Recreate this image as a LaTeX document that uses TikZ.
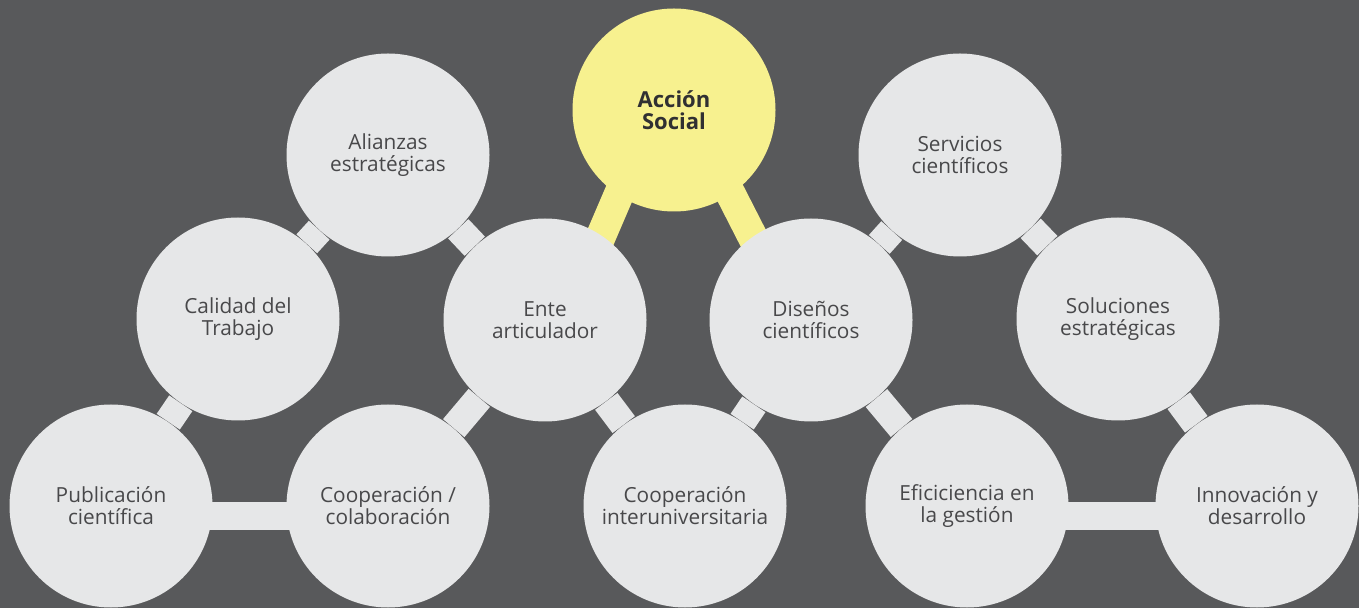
\documentclass[tikz,border=0pt]{standalone}
\usepackage{fontspec}
\setmainfont{Open Sans}
\usetikzlibrary{calc, backgrounds}
\definecolor{slate}{HTML}{58595B}
\definecolor{bubble}{HTML}{E6E7E8}
\definecolor{sunny}{HTML}{F7F18F}
\definecolor{ink}{HTML}{48484A}
\definecolor{darkink}{HTML}{303032}
\pgfdeclarelayer{canvas}
\pgfsetlayers{canvas,background,main}
\begin{document}
\begin{tikzpicture}[
  x=0.5pt, y=-0.5pt,
  bub/.style={circle, fill=bubble, minimum size=101.5pt, inner sep=0pt, align=center, text=ink, font=\fontsize{10.4}{11}\selectfont},
  hub/.style={bub, fill=sunny, text=darkink, font=\fontsize{11}{11}\selectfont\bfseries},
  link/.style={bubble, line width=14pt},
  hublink/.style={sunny, line width=15pt}
]
\useasboundingbox (0,0) rectangle (1359,608);
\begin{pgfonlayer}{canvas}
  \fill[slate] (0,0) rectangle (1359,608);
\end{pgfonlayer}

% top hub
\node[hub] (acc) at (674,110) {Acción\\Social};

% upper row
\node[bub] (ali) at (388,155) {Alianzas\\estratégicas};
\node[bub] (ser) at (960,155) {Servicios\\científicos};

% middle row
\node[bub] (cal)  at (238,319)  {Calidad del\\Trabajo};
\node[bub] (ente) at (545,320)  {Ente\\articulador};
\node[bub] (dis)  at (811,320)  {Diseños\\científicos};
\node[bub] (sol)  at (1118,319) {Soluciones\\estratégicas};

% bottom row
\node[bub] (pub)   at (111,506)  {Publicación\\científica};
\node[bub] (coop)  at (388,506)  {Cooperación /\\colaboración};
\node[bub] (inter) at (685,506)  {Cooperación\\interuniversitaria};
\node[bub] (efi)   at (967,506)  {Eficiciencia en\\la gestión};
\node[bub] (inno)  at (1257,506) {Innovación y\\desarrollo};

\begin{scope}[on background layer]
  \draw[hublink] ($(acc)+(-4,-35)$) -- ($(ente)+(20,0)$);
  \draw[hublink] ($(acc)+(-4,-35)$) -- ($(dis)+(-16,0)$);
  \draw[link] (ali) -- (cal); \draw[link] (ali) -- (ente);
  \draw[link] (cal) -- (pub);
  \draw[link] (ente) -- (coop); \draw[link] (ente) -- (inter);
  \draw[link] ($(pub)+(0,10)$) -- ($(coop)+(0,10)$);
  \draw[link] (dis) -- (ser); \draw[link] (dis) -- (inter); \draw[link] (dis) -- (efi);
  \draw[link] (ser) -- (sol); \draw[link] (sol) -- (inno);
  \draw[link] ($(efi)+(0,10)$) -- ($(inno)+(0,10)$);
\end{scope}
\end{tikzpicture}
\end{document}
